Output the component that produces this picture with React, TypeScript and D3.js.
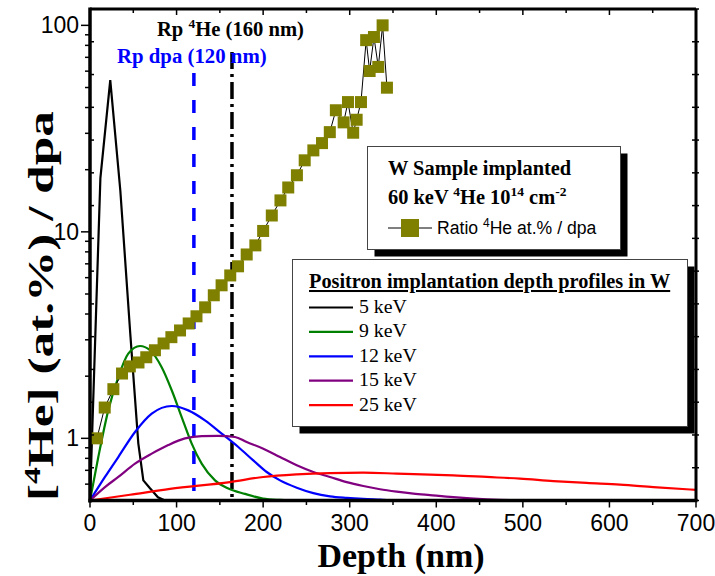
import React from "react";
import * as d3 from "d3";

// ---- data ----
const ratioDepth = [8,17,27,37,46,56,65,75,85,94,104,114,123,133,143,152,162,171,181,191,200,210,220,229,239,248,258,268,277,284,293,298,304,308,313,319,323,328,333,338,343];
const ratioValue = [1.0,1.41,1.73,2.06,2.23,2.33,2.47,2.67,2.88,3.09,3.33,3.6,3.9,4.31,4.93,5.51,6.15,6.81,7.77,8.6,10.1,12.0,14.2,16.4,18.8,22.2,24.8,26.9,30.4,38.8,33.9,42.5,30.2,34.9,42.5,84.8,60.1,87.8,62.9,100,49.9];

const p5Depth = [0,12,23.4,35,46.5,55.8,61.6,69.3,78.5,86.6,700];
const p5Value = [0.5,18.2,54.3,15.9,3.22,0.946,0.626,0.573,0.518,0.5,0.5];

const p9Depth = [0,9.6,21.1,32.7,44.2,57.8,69.3,82.8,94.4,105.9,117.5,129,144.4,159.8,179,199.8,219.5,240,700];
const p9Value = [0.5,0.812,1.366,1.98,2.57,2.8,2.67,2.21,1.71,1.268,0.943,0.754,0.626,0.571,0.538,0.511,0.503,0.5,0.5];

const p12Depth = [0,17.3,32.7,52,71.3,94.4,113.5,132.8,152.1,171.3,188.6,204.1,219.5,238.8,258,277.2,296.5,315.4,335,358,700];
const p12Value = [0.5,0.65,0.812,1.073,1.317,1.434,1.366,1.222,1.054,0.908,0.782,0.687,0.626,0.577,0.543,0.524,0.515,0.509,0.505,0.5,0.5];

const p15Depth = [0,17.3,32.7,52,71.3,90.4,109.7,129,148.2,167.5,181,200.2,219.5,238.8,258,277.2,296.5,315.7,335,354.3,373.5,392.7,419.7,458.2,496.7,540,700];
const p15Value = [0.5,0.581,0.65,0.754,0.843,0.928,1.0,1.026,1.028,1.015,0.96,0.891,0.812,0.74,0.687,0.65,0.614,0.588,0.567,0.552,0.54,0.531,0.519,0.507,0.501,0.5,0.5];

const p25Depth = [0,46.2,92.4,161.7,200.2,238.8,277.2,315.7,354.3,392.7,419.7,458.2,496.7,535.2,573.7,612.2,650.7,700];
const p25Value = [0.5,0.533,0.569,0.614,0.65,0.669,0.679,0.682,0.675,0.667,0.662,0.65,0.638,0.621,0.608,0.597,0.581,0.563];

const profileLabels = ["5 keV", "9 keV", "12 keV", "15 keV", "25 keV"];
const profileColors = ["#000000", "#008000", "#0000ff", "#800080", "#ff0000"];

const xMajorTicks = [0, 100, 200, 300, 400, 500, 600, 700];
const xMinorTicks = [50, 150, 250, 350, 450, 550, 650];
const yMajorTicks = [1, 10, 100];
const yMinorTicks = [0.6, 0.7, 0.8, 0.9, 2, 3, 4, 5, 6, 7, 8, 9, 20, 30, 40, 50, 60, 70, 80, 90];
const linTicks = d3.range(0, 16);

const rpHeDepth = 164;
const rpDpaDepth = 120;

// ---- layout ----
const W = 715, H = 576;
const L = 90, R = 696, T = 9, B = 500.5;
const serif = "Liberation Serif, Times New Roman, Times, serif";
const sans = "Liberation Sans, Arial, Helvetica, sans-serif";

export default function App() {
  const x = d3.scaleLinear().domain([0, 700]).range([L, R]);
  const y = d3.scaleLog().domain([0.5, 120]).range([B, T]);
  const yLin = d3.scaleLinear().domain([0, 15]).range([B, T]);

  const profiles = [
    { d: p5Depth, v: p5Value, curve: d3.curveLinear },
    { d: p9Depth, v: p9Value, curve: d3.curveMonotoneX },
    { d: p12Depth, v: p12Value, curve: d3.curveMonotoneX },
    { d: p15Depth, v: p15Value, curve: d3.curveMonotoneX },
    { d: p25Depth, v: p25Value, curve: d3.curveMonotoneX },
  ];

  const ratioLine = d3.line<number>()
    .x((_, i) => x(ratioDepth[i]))
    .y((v) => y(v))(ratioValue) || "";

  const sq = 12;

  return (
    <svg width={W} height={H} style={{ position: "absolute", left: 0, top: 0, background: "#fff" }}>
      <rect x={0} y={0} width={W} height={H} fill="#fff" />
      {/* vertical reference lines */}
      <line x1={x(rpDpaDepth)} x2={x(rpDpaDepth)} y1={73} y2={B} stroke="#0000ff" strokeWidth={3.5} strokeDasharray="13 14" />
      <line x1={x(rpHeDepth)} x2={x(rpHeDepth)} y1={52} y2={B} stroke="#000" strokeWidth={3.5} strokeDasharray="17 5 3 5" />

      {/* positron profiles */}
      {profiles.map((p, k) => {
        const path = d3.line<number>()
          .x((_, i) => x(p.d[i]))
          .y((v) => y(v))
          .curve(p.curve)(p.v) || "";
        return <path key={k} d={path} fill="none" stroke={profileColors[k]} strokeWidth={2.2} />;
      })}

      {/* ratio series */}
      <path d={ratioLine} fill="none" stroke="#000" strokeWidth={1} />
      {ratioValue.map((v, i) => (
        <rect key={i} x={x(ratioDepth[i]) - sq / 2} y={y(v) - sq / 2} width={sq} height={sq} fill="#808000" />
      ))}

      {/* annotations */}
      <text x={157} y={36} fontFamily={serif} fontWeight="bold" fontSize={20.6} fill="#000">
        Rp <tspan dy={-8} fontSize={13.5}>4</tspan><tspan dy={8}>He (160 nm)</tspan>
      </text>
      <text x={117} y={63} fontFamily={serif} fontWeight="bold" fontSize={20.8} fill="#0000ff">
        Rp dpa (120 nm)
      </text>

      {/* legend box 1 */}
      <rect x={374.5} y={153.5} width={253} height={103} fill="#000" />
      <rect x={367.5} y={146.5} width={253} height={103} fill="#fff" stroke="#444" strokeWidth={1} />
      <text x={388} y={175} fontFamily={serif} fontWeight="bold" fontSize={20.4}>W Sample implanted</text>
      <text x={388} y={204} fontFamily={serif} fontWeight="bold" fontSize={20.4}>
        60 keV <tspan dy={-8} fontSize={13.5}>4</tspan><tspan dy={8}>He 10</tspan>
        <tspan dy={-8} fontSize={13.5}>14</tspan><tspan dy={8}> cm</tspan>
        <tspan dy={-8} fontSize={13.5}>-2</tspan>
      </text>
      <line x1={388} x2={432} y1={228} y2={228} stroke="#000" strokeWidth={1} />
      <rect x={401} y={219} width={18} height={18} fill="#808000" />
      <text x={437} y={234} fontFamily={sans} fontSize={17.6}>
        Ratio <tspan dy={-7} fontSize={12}>4</tspan><tspan dy={7}>He at.% / dpa</tspan>
      </text>

      {/* legend box 2 */}
      <rect x={299.5} y={266.5} width={395} height={167} fill="#000" />
      <rect x={292.5} y={259.5} width={395} height={167} fill="#fff" stroke="#444" strokeWidth={1} />
      <text x={309} y={288} fontFamily={serif} fontWeight="bold" fontSize={20.3} textDecoration="underline">
        Positron implantation depth profiles in W
      </text>
      {profileLabels.map((lab, k) => {
        const by = 313 + k * 24.4;
        return (
          <g key={lab}>
            <line x1={309} x2={353} y1={by - 5.5} y2={by - 5.5} stroke={profileColors[k]} strokeWidth={2.2} />
            <text x={359} y={by} fontFamily={serif} fontSize={19.8}>{lab}</text>
          </g>
        );
      })}

      {/* frame */}
      <g stroke="#000" fill="none">
        <line x1={L} x2={R} y1={T} y2={T} strokeWidth={3} />
        <line x1={R} x2={R} y1={T} y2={B} strokeWidth={3} />
        <line x1={L} x2={L} y1={T - 1.5} y2={B + 2} strokeWidth={3.5} />
        <line x1={L - 1.5} x2={R + 1.5} y1={B} y2={B} strokeWidth={3.5} />
      </g>

      {/* ticks */}
      <g stroke="#000" strokeWidth={1.5}>
        {xMajorTicks.map((t) => (
          <g key={"xm" + t}>
            <line x1={x(t)} x2={x(t)} y1={B} y2={B + 7} />
            <line x1={x(t)} x2={x(t)} y1={T} y2={T + 6} />
          </g>
        ))}
        {xMinorTicks.map((t) => (
          <g key={"xn" + t}>
            <line x1={x(t)} x2={x(t)} y1={B} y2={B + 4.5} />
            <line x1={x(t)} x2={x(t)} y1={T} y2={T + 4} />
          </g>
        ))}
        {yMajorTicks.map((t) => (
          <line key={"ym" + t} x1={L - 9} x2={L} y1={y(t)} y2={y(t)} />
        ))}
        {yMinorTicks.map((t) => (
          <line key={"yn" + t} x1={L - 5} x2={L} y1={y(t)} y2={y(t)} />
        ))}
        {linTicks.map((t) => (
          <g key={"yl" + t}>
            <line x1={L} x2={L + 4} y1={yLin(t)} y2={yLin(t)} />
            <line x1={R - 4} x2={R + 3} y1={yLin(t)} y2={yLin(t)} />
          </g>
        ))}
      </g>

      {/* tick labels */}
      {xMajorTicks.map((t) => (
        <text key={"xl" + t} x={x(t)} y={531} textAnchor="middle" fontFamily={sans} fontSize={23}>{t}</text>
      ))}
      {yMajorTicks.map((t) => (
        <text key={"yl" + t} x={79} y={y(t) + 8} textAnchor="end" fontFamily={sans} fontSize={23}>{t}</text>
      ))}

      {/* axis titles */}
      <text x={401} y={567} textAnchor="middle" fontFamily={serif} fontWeight="bold" fontSize={34}>Depth (nm)</text>
      <text transform="translate(53,306) rotate(-90)" textAnchor="middle" fontFamily={serif} fontWeight="bold" fontSize={35}
        textLength={390} lengthAdjust="spacingAndGlyphs">
        [<tspan dy={-13} fontSize={23}>4</tspan><tspan dy={13}>He] (at.%) / dpa</tspan>
      </text>
    </svg>
  );
}
